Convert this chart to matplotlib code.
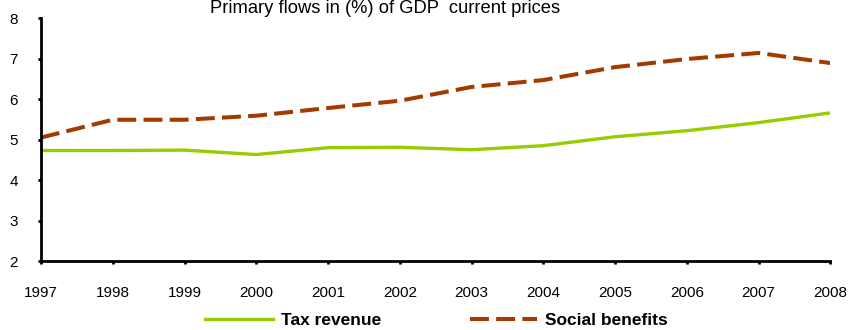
import matplotlib
matplotlib.use("Agg")
from matplotlib import pyplot as plt

plt.rcParams["font.family"] = ["Liberation Sans", "DejaVu Sans"]

years = [1997, 1998, 1999, 2000, 2001, 2002, 2003, 2004, 2005, 2006, 2007, 2008]
tax_revenue = [4.73, 4.73, 4.74, 4.63, 4.80, 4.81, 4.75, 4.85, 5.07, 5.22, 5.42, 5.66]
social_benefits = [5.05, 5.49, 5.49, 5.59, 5.78, 5.96, 6.30, 6.47, 6.79, 6.99, 7.14, 6.89]

fig = plt.figure(figsize=(8.48, 3.30), dpi=100)
ax = fig.add_axes([0.0483, 0.209, 0.931, 0.736])

ax.plot(years, tax_revenue, color="#99CC00", lw=2.4, label="Tax revenue")
ax.plot(years, social_benefits, color="#A33A00", lw=2.9, dashes=(4.7, 1.8),
        label="Social benefits")

ax.set_xlim(1997, 2008)
ax.set_ylim(2, 8)
ax.set_xticks(years)
ax.set_yticks(range(2, 9))

for side in ("top", "right"):
    ax.spines[side].set_visible(False)
for side in ("left", "bottom"):
    ax.spines[side].set_linewidth(2)
ax.tick_params(axis="both", direction="out", length=2.5, width=2, labelsize=11)
ax.tick_params(axis="x", pad=15.5)
ax.tick_params(axis="y", pad=14)

fig.text(0.454, 1.0, "Primary flows in (%) of GDP  current prices",
         ha="center", va="top", fontsize=13.2)

leg = ax.legend(loc="center", bbox_to_anchor=(0.501, -0.245), ncol=2,
                frameon=False, handlelength=3.9, handletextpad=0.45,
                columnspacing=5.1, prop={"weight": "bold", "size": 12.5})

fig.savefig("out.png", dpi=100)
